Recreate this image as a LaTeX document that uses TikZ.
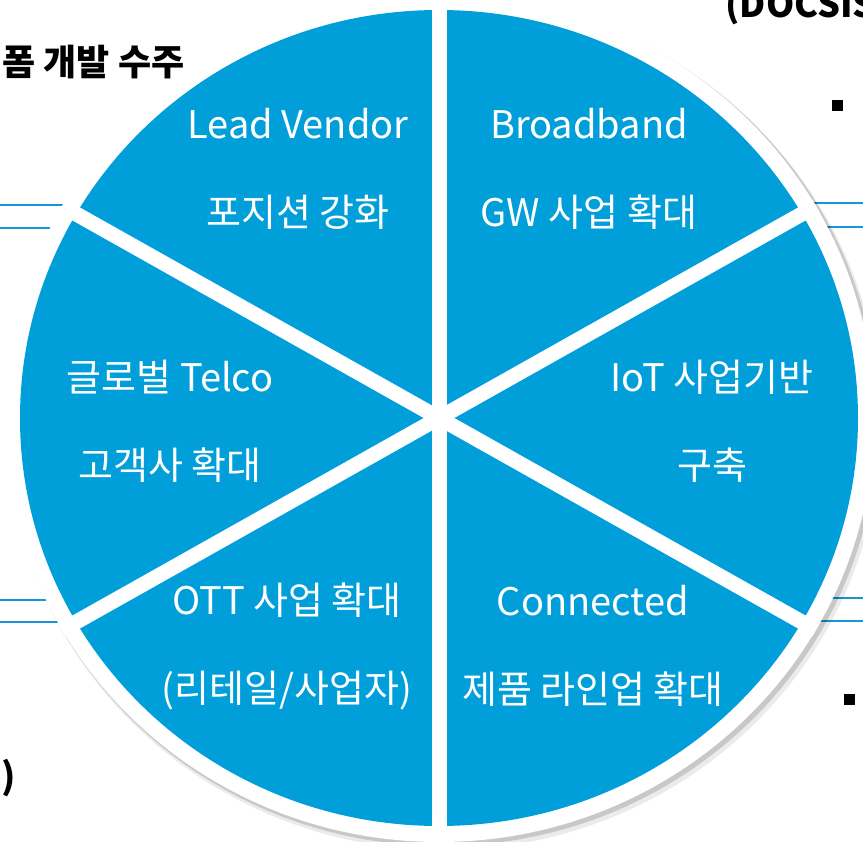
\documentclass[tikz,border=0pt]{standalone}
\usepackage{fontspec}
\setmainfont{Noto Sans CJK KR}
\definecolor{pieblue}{RGB}{0,159,218}
\definecolor{ruleblue}{RGB}{20,150,215}

\begin{document}
\begin{tikzpicture}[x=1pt,y=-1pt,align=center,
  sector/.style={text=white,font=\fontsize{38}{88}\selectfont},
  backtext/.style={text=black,font=\bfseries\fontsize{36}{38}\selectfont},
  sep/.style={draw=white,line width=15pt},
  rule/.style={draw=ruleblue,line width=1.6pt},
  bullet/.style={fill=black,inner sep=0pt,minimum size=11pt}]

\useasboundingbox (0,0) rectangle (863,842);
\clip (0,0) rectangle (863,842);

\draw[rule] (0,205) -- (200,205);
\draw[rule] (0,228) -- (200,228);
\draw[rule] (0,600) -- (200,600);
\draw[rule] (0,622) -- (200,622);
\draw[rule] (680,203) -- (863,203);
\draw[rule] (680,227) -- (863,227);
\draw[rule] (680,598) -- (863,598);
\draw[rule] (680,621) -- (863,621);

\fill[black,opacity=0.08] (444,424) ellipse [x radius=437pt, y radius=426pt];
\fill[black,opacity=0.15] (442,421) ellipse [x radius=436pt, y radius=425pt];
\fill[white] (439,418) ellipse [x radius=435pt, y radius=424pt];
\fill[pieblue] (439,418) ellipse [x radius=419pt, y radius=408pt];

\coordinate (c) at (439,418);
\coordinate (n) at (439,-6);
\coordinate (s) at (439,842);
\coordinate (ne) at (816,206);
\coordinate (nw) at (62,206);
\coordinate (sw) at (62,630);
\coordinate (se) at (816,630);

\draw[sep] (c) -- (n);
\draw[sep] (c) -- (s);
\draw[sep] (c) -- (ne);
\draw[sep] (c) -- (nw);
\draw[sep] (c) -- (sw);
\draw[sep] (c) -- (se);

\node[sector] (lead) at (298,169) {Lead Vendor\\포지션 강화};
\node[sector] (broad) at (589,169) {Broadband\\GW 사업 확대};
\node[sector] (iot) at (712,421) {IoT 사업기반\\구축};
\node[sector] (telco) at (170,421) {글로벌 Telco\\고객사 확대};
\node[sector] (ott) at (287,646) {OTT 사업 확대\\(리테일/사업자)};
\node[sector] (conn) at (593,646) {Connected\\제품 라인업 확대};

\node[backtext,anchor=east] (order) at (188,62) {폼 개발 수주};
\node[backtext,anchor=base west] (docsis) at (722,18) {(DOCSIS 사};
\node[backtext,anchor=east] (paren) at (19,778) {는)};
\node[bullet] (dot1) at (837,106) {};
\node[bullet] (dot2) at (849,699) {};

\end{tikzpicture}
\end{document}
